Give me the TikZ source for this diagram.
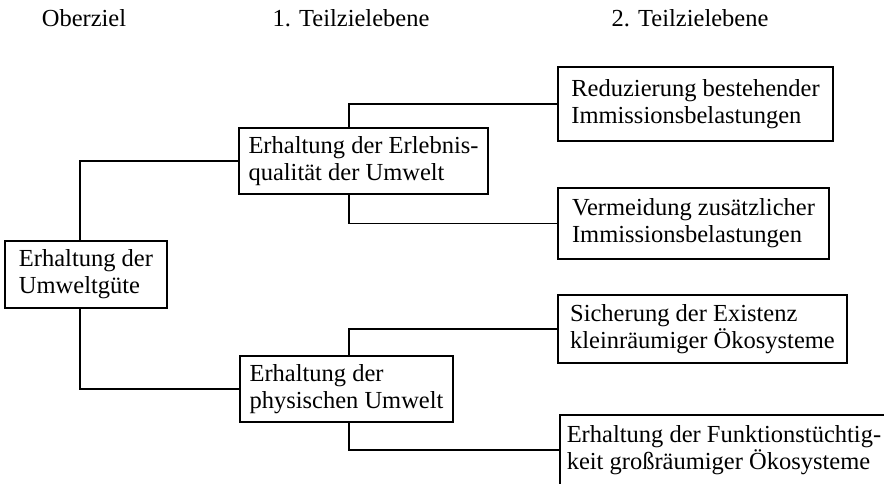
\documentclass[tikz,border=0pt]{standalone}
\usepackage{fontspec}
\setmainfont{Liberation Serif}
\usepackage{tikz}

\begin{document}
\begin{tikzpicture}[x=1pt, y=-1pt, line width=1.5pt,
	ziel/.style={draw, align=left, inner xsep=8pt, inner ysep=4pt, font=\fontsize{24.5}{27}\selectfont},
	ebene/.style={anchor=base, inner sep=0pt, font=\fontsize{24.5}{27}\selectfont}]
	\useasboundingbox (0,0) rectangle (884,484);

	% Headers
	\node[ebene] (e0) at (84,27) {Oberziel};
	\node[ebene] (e1) at (351,27) {1. Teilzielebene};
	\node[ebene] (e2) at (690,27) {2. Teilzielebene};

	% Nodes
	\node[ziel, minimum width=162pt, minimum height=67pt] (oz) at (86,274.5) {Erhaltung der\\Umweltgüte};
	\node[ziel, minimum width=249pt, minimum height=66pt] (t1a) at (363.5,161) {Erhaltung der Erlebnis-\\qualität der Umwelt};
	\node[ziel, minimum width=213pt, minimum height=66pt] (t1b) at (346.5,389) {Erhaltung der\\physischen Umwelt};
	\node[ziel, minimum width=275pt, minimum height=74pt] (t2a) at (695.5,104) {Reduzierung bestehender\\Immissionsbelastungen};
	\node[ziel, minimum width=271pt, minimum height=71pt] (t2b) at (693.5,223.5) {Vermeidung zusätzlicher\\Immissionsbelastungen};
	\node[ziel, minimum width=289pt, minimum height=68pt] (t2c) at (702.5,329) {Sicherung der Existenz\\kleinräumiger Ökosysteme};
	\node[ziel, draw=none, inner xsep=6pt, minimum height=68pt, anchor=north west] (t2d) at (560,415) {Erhaltung der Funktionstüchtig-\\keit großräumiger Ökosysteme};
	\draw (t2d.south west) |- (t2d.north east);

	% Branch lines
	\coordinate (k0) at (80,0);
	\coordinate (k1) at (349,0);
	\draw (oz.north -| k0) |- (t1a.west);
	\draw (oz.south -| k0) |- (t1b.west);
	\draw (t1a.north -| k1) |- (t2a.west);
	\draw (t1a.south -| k1) |- (t2b.west);
	\draw (t1b.north -| k1) |- (t2c.west);
	\draw (t1b.south -| k1) |- (t2d.west);

\end{tikzpicture}
\end{document}
